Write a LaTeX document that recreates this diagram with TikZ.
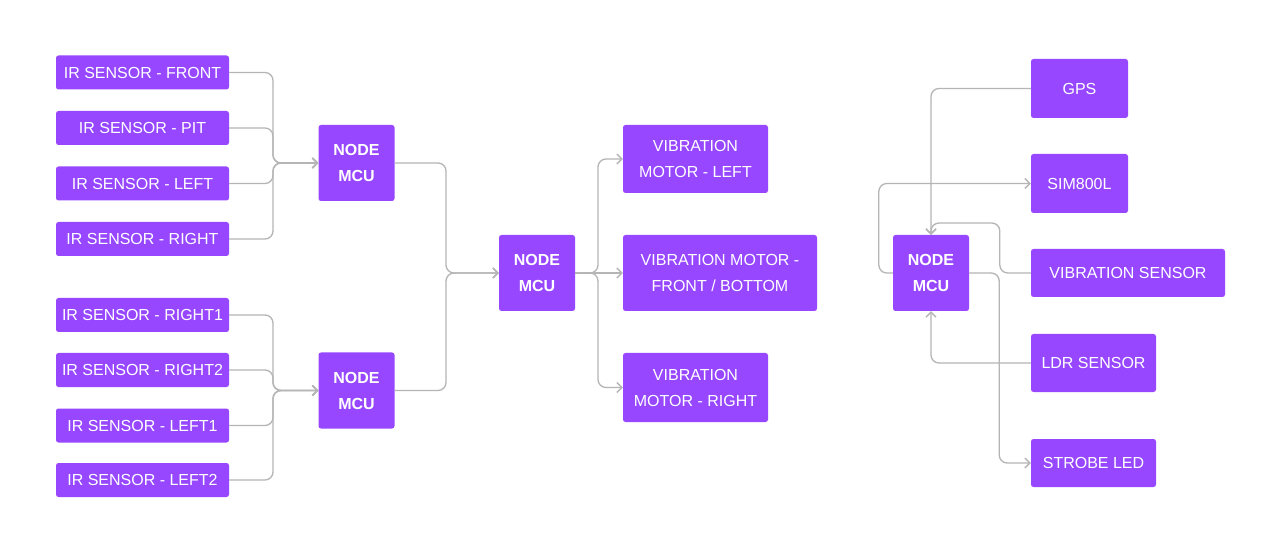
\documentclass[tikz,border=0pt]{standalone}
\usepackage{fontspec}
\setmainfont{Liberation Sans}
\usepackage{xcolor}
\usetikzlibrary{arrows.meta}
\definecolor{boxpurple}{HTML}{9747FF}
\definecolor{wiregray}{HTML}{B5B5B5}
\tikzstyle{block}=[rectangle,fill=boxpurple,rounded corners=2.5pt,text=white,align=center,inner sep=0pt,font=\fontsize{16}{26}\selectfont]
\tikzstyle{sensor}=[block,minimum width=173pt,minimum height=34pt]
\tikzstyle{mcu}=[block,minimum width=76pt,minimum height=76pt,font=\fontsize{16}{26}\selectfont\bfseries]
\tikzstyle{wire}=[draw=wiregray,line width=1.3pt,rounded corners=8pt,->,>={Straight Barb[length=5pt,width=10pt]}]

\begin{document}
\begin{tikzpicture}[x=1pt,y=-1pt]
      \fill [white] (0,0) rectangle (1280,553);
      \useasboundingbox (0,0) rectangle (1280,553);

      \node [sensor] (irf) at (142.5,72.5) {IR SENSOR - FRONT};
      \node [sensor] (irp) at (142.5,128) {IR SENSOR - PIT};
      \node [sensor] (irl) at (142.5,183.5) {IR SENSOR - LEFT};
      \node [sensor] (irr) at (142.5,239) {IR SENSOR - RIGHT};
      \node [sensor] (irr1) at (142.5,315) {IR SENSOR - RIGHT1};
      \node [sensor] (irr2) at (142.5,370) {IR SENSOR - RIGHT2};
      \node [sensor] (irl1) at (142.5,425.5) {IR SENSOR - LEFT1};
      \node [sensor] (irl2) at (142.5,480) {IR SENSOR - LEFT2};

      \node [mcu] (mcua) at (356.5,163) {NODE\\MCU};
      \node [mcu] (mcub) at (356.5,390.5) {NODE\\MCU};
      \node [mcu] (mcuc) at (537,273) {NODE\\MCU};
      \node [mcu] (mcud) at (931,273) {NODE\\MCU};

      \node [block,minimum width=145pt,minimum height=68pt] (vml) at (695.5,159) {VIBRATION\\MOTOR - LEFT};
      \node [block,minimum width=194pt,minimum height=76pt] (vmf) at (720,273) {VIBRATION MOTOR -\\FRONT / BOTTOM};
      \node [block,minimum width=145pt,minimum height=69pt] (vmr) at (695.5,387.5) {VIBRATION\\MOTOR - RIGHT};

      \node [block,minimum width=97pt,minimum height=59pt] (gps) at (1079.5,88.5) {GPS};
      \node [block,minimum width=97pt,minimum height=59pt] (sim) at (1079.5,183.5) {SIM800L};
      \node [block,minimum width=194pt,minimum height=48pt] (vsn) at (1128,273) {VIBRATION SENSOR};
      \node [block,minimum width=125pt,minimum height=58pt] (ldr) at (1093.5,363) {LDR SENSOR};
      \node [block,minimum width=125pt,minimum height=48pt] (led) at (1093.5,463) {STROBE LED};

      \coordinate (ja) at (273,163);
      \coordinate (jb) at (273,390.5);
      \coordinate (jc) at (446,273);
      \coordinate (jd) at (598,273);

      \draw [wire] (irf.east) -| (ja) -- (mcua.west);
      \draw [wire] (irp.east) -| (ja) -- (mcua.west);
      \draw [wire] (irl.east) -| (ja) -- (mcua.west);
      \draw [wire] (irr.east) -| (ja) -- (mcua.west);
      \draw [wire] (irr1.east) -| (jb) -- (mcub.west);
      \draw [wire] (irr2.east) -| (jb) -- (mcub.west);
      \draw [wire] (irl1.east) -| (jb) -- (mcub.west);
      \draw [wire] (irl2.east) -| (jb) -- (mcub.west);

      \draw [wire] (mcua.east) -| (jc) -- (mcuc.west);
      \draw [wire] (mcub.east) -| (jc) -- (mcuc.west);

      \draw [wire] (mcuc.east) -- (jd) |- (vml.west);
      \draw [wire] (mcuc.east) -- (vmf.west);
      \draw [wire] (mcuc.east) -- (jd) |- (vmr.west);

      \draw [wire] (gps.west) -| (mcud.north);
      \draw [wire] (mcud.west) -- ++(-14,0) |- (sim.west);
      \draw [wire] (vsn.west) -- ++(-31,0) -- ++(0,-50) -| (mcud.north);
      \draw [wire] (ldr.west) -| (mcud.south);
      \draw [wire] (mcud.east) -- ++(30,0) |- (led.west);
    \end{tikzpicture}
\end{document}
